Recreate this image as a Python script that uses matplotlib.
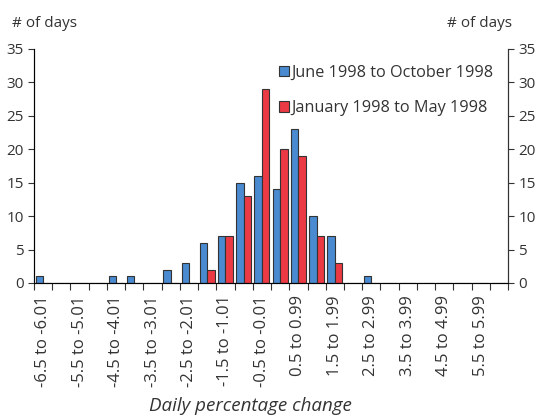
import numpy as np
import matplotlib
matplotlib.use("Agg")
import matplotlib.pyplot as plt

# =========================
# Data
# =========================
bin_starts = [-6.5, -6.0, -5.5, -5.0, -4.5, -4.0, -3.5, -3.0, -2.5, -2.0, -1.5, -1.0, -0.5,
              0.0, 0.5, 1.0, 1.5, 2.0, 2.5, 3.0, 3.5, 4.0, 4.5, 5.0, 5.5, 6.0]
bin_labels = ["-6.5 to -6.01", "", "-5.5 to -5.01", "", "-4.5 to -4.01", "", "-3.5 to -3.01", "",
              "-2.5 to -2.01", "", "-1.5 to -1.01", "", "-0.5 to -0.01", "", "0.5 to 0.99", "",
              "1.5 to 1.99", "", "2.5 to 2.99", "", "3.5 to 3.99", "", "4.5 to 4.99", "",
              "5.5 to 5.99", ""]
june_oct = [1, 0, 0, 0, 1, 1, 0, 2, 3, 6, 7, 15, 16, 14, 23, 10, 7, 0, 1, 0, 0, 0, 0, 0, 0, 0]
jan_may = [0, 0, 0, 0, 0, 0, 0, 0, 0, 2, 7, 13, 29, 20, 19, 7, 3, 0, 0, 0, 0, 0, 0, 0, 0, 0]

BLUE = "#4a8ad0"
RED = "#ec3a44"
TXT = "#333333"
EDGE = "#333333"

plt.rcParams["font.family"] = ["Open Sans", "DejaVu Sans"]

fig = plt.figure(figsize=(5.4, 4.18), dpi=100)
ax = fig.add_axes([0.063, 0.323, 0.878, 0.56])

x = np.arange(len(bin_starts))
w = 0.41
ax.bar(x - w / 2, june_oct, width=w, color=BLUE, edgecolor=EDGE, linewidth=0.8,
       label="June 1998 to October 1998")
ax.bar(x + w / 2, jan_may, width=w, color=RED, edgecolor=EDGE, linewidth=0.8,
       label="January 1998 to May 1998")

ax.set_xlim(-0.5, len(x) - 0.5)
ax.set_ylim(0, 35)
ax.set_yticks(range(0, 36, 5))

# ticks on category boundaries, labels at category centres
ax.set_xticks(np.arange(-0.5, len(x), 1.0))
ax.set_xticklabels([])
ax.set_xticks(x, minor=True)
ax.set_xticklabels(bin_labels, minor=True, rotation=90, fontsize=12, color=TXT)
ax.tick_params(axis="x", which="major", length=5, direction="out", color=EDGE)
ax.tick_params(axis="x", which="minor", length=0, pad=9)
ax.tick_params(axis="y", length=4, labelsize=11, labelcolor=TXT, color=EDGE)

ax.spines["top"].set_visible(False)
for s in ["left", "right", "bottom"]:
    ax.spines[s].set_color(EDGE)

ax2 = ax.twinx()
ax2.set_ylim(0, 35)
ax2.set_yticks(range(0, 36, 5))
ax2.tick_params(axis="y", length=4, labelsize=11, labelcolor=TXT, color=EDGE)
ax2.spines["top"].set_visible(False)
ax2.spines["right"].set_color(EDGE)

fig.text(0.022, 0.935, "# of days", fontsize=11, color=TXT)
fig.text(0.948, 0.935, "# of days", fontsize=11, color=TXT, ha="right")

fig.text(0.463, 0.017, "Daily percentage change", fontsize=13.5, style="italic",
         color=TXT, ha="center", va="baseline")

fig.legend(loc="upper left", bbox_to_anchor=(0.517, 0.845), frameon=False, fontsize=11.7,
           handlelength=0.6, handleheight=0.6, handletextpad=0.15, labelspacing=1.2,
           borderpad=0, borderaxespad=0, labelcolor=TXT)

fig.savefig("out.png", dpi=100)
